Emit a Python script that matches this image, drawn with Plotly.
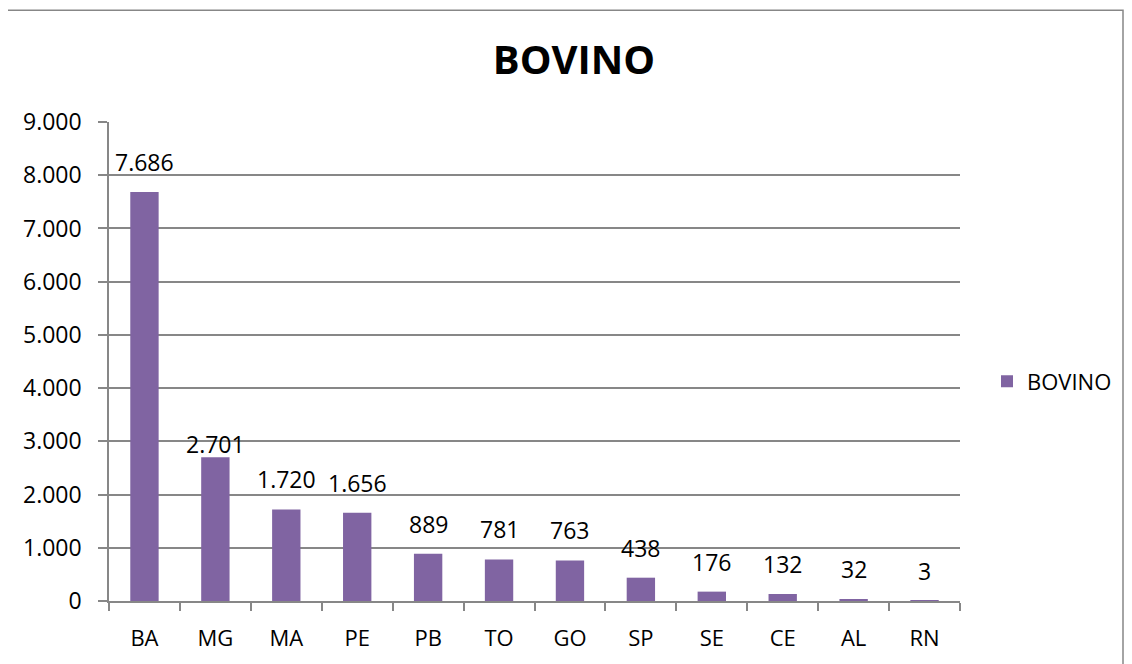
import plotly.graph_objects as go

categories = ["BA", "MG", "MA", "PE", "PB", "TO", "GO", "SP", "SE", "CE", "AL", "RN"]
values = [7686, 2701, 1720, 1656, 889, 781, 763, 438, 176, 132, 32, 3]
series_name = "BOVINO"
y_ticks = [0, 1000, 2000, 3000, 4000, 5000, 6000, 7000, 8000, 9000]


def fmt(v):
    return f"{v:,}".replace(",", ".")


FONT = "Open Sans"
GRID = "#878787"
LABEL_SHIFT = 12
LABEL_SHIFT_OVERRIDE = {"MG": -5}  # that label sits lower, touching its bar

# page has an 8px body margin; compensate
OFF = 8
W, H = 1132 - OFF, 664 - OFF
L, R, T, B = 109 - OFF, 1132 - 960, 122 - OFF, 664 - 604

pw, ph = W - L - R, H - T - B


def px_to_paper_x(px):
    return (px - OFF - L) / pw


def px_to_paper_y(py):
    return (H - B - (py - OFF)) / ph


fig = go.Figure()
fig.add_trace(go.Bar(
    x=categories, y=values, name=series_name,
    marker=dict(color="#8064A2", line=dict(width=0)),
    showlegend=True,
))

annotations = []
for c, v in zip(categories, values):
    annotations.append(dict(
        x=c, y=v, xref="x", yref="y", text=fmt(v), showarrow=False,
        yanchor="bottom", yshift=LABEL_SHIFT_OVERRIDE.get(c, LABEL_SHIFT),
        font=dict(family=FONT, size=23, color="#000000"),
    ))

fig.update_layout(
    width=W, height=H,
    margin=dict(l=L, r=R, t=T, b=B, pad=0),
    paper_bgcolor="white", plot_bgcolor="white",
    separators=",.",
    bargap=0.6,
    font=dict(family=FONT, size=22, color="#000000"),
    title=dict(text="<b>BOVINO</b>", x=(574 - OFF) / W, xanchor="center", xref="container",
               y=1 - (60 - OFF) / H, yanchor="middle", yref="container",
               font=dict(family=FONT, size=40, color="#000000")),
    legend=dict(x=px_to_paper_x(987), xanchor="left", y=px_to_paper_y(383), yanchor="middle",
                font=dict(family=FONT, size=22), itemwidth=30, bgcolor="rgba(0,0,0,0)"),
    annotations=annotations,
    shapes=[dict(type="rect", xref="paper", yref="paper",
                 x0=px_to_paper_x(6), x1=px_to_paper_x(1123),
                 y0=px_to_paper_y(700), y1=px_to_paper_y(9.5),
                 line=dict(color=GRID, width=1.5), fillcolor="rgba(0,0,0,0)", layer="below")],
)

fig.update_xaxes(
    type="category", showgrid=False, showline=True, linecolor=GRID, linewidth=1.5,
    ticks="outside", tickson="boundaries", ticklen=8, tickcolor=GRID, tickwidth=1.5,
    tickfont=dict(family=FONT, size=22), ticklabelstandoff=17,
)
fig.update_yaxes(
    range=[0, 9000], tickvals=y_ticks, tickformat=",d",
    showgrid=True, gridcolor=GRID, gridwidth=1.5,
    showline=True, linecolor=GRID, linewidth=1.5,
    ticks="outside", ticklen=9, tickcolor=GRID, tickwidth=1.5,
    tickfont=dict(family=FONT, size=23), zeroline=False, ticklabelstandoff=12,
)

fig.write_html("out.html")
